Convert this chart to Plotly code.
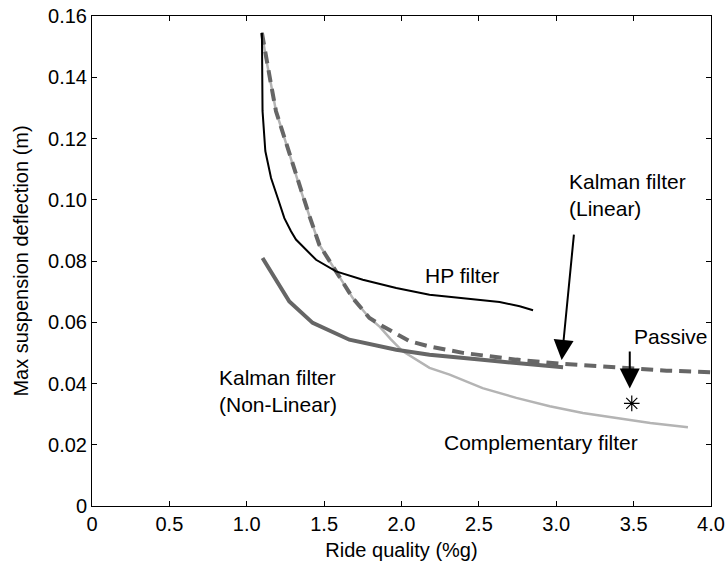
import plotly.graph_objects as go

# ---- data ----
hp_x = [1.098, 1.102, 1.120, 1.157, 1.204, 1.243, 1.286, 1.318, 1.448, 1.577,
        1.750, 1.966, 2.181, 2.397, 2.634, 2.764, 2.850]
hp_y = [0.1545, 0.1290, 0.1159, 0.1071, 0.1000, 0.0940, 0.0897, 0.0870, 0.0804, 0.0766,
        0.0739, 0.0712, 0.0690, 0.0679, 0.0666, 0.0652, 0.0639]

comp_x = [1.098, 1.124, 1.157, 1.189, 1.243, 1.296, 1.351, 1.405, 1.469, 1.577,
          1.685, 1.793, 1.860, 1.930, 2.006, 2.181, 2.311, 2.524, 2.742, 2.958,
          3.172, 3.390, 3.608, 3.851]
comp_y = [0.1545, 0.1463, 0.1376, 0.1289, 0.1202, 0.1114, 0.1028, 0.0947, 0.0853, 0.0766,
          0.0679, 0.0614, 0.0585, 0.0545, 0.0506, 0.0451, 0.0429, 0.0385, 0.0353, 0.0326,
          0.0304, 0.0287, 0.0271, 0.0257]

klin_x = [1.098, 1.124, 1.157, 1.189, 1.243, 1.296, 1.351, 1.405, 1.469, 1.577,
          1.685, 1.793, 1.879, 2.052, 2.181, 2.397, 2.526, 2.742, 3.044, 3.390,
          3.713, 4.000]
klin_y = [0.1545, 0.1463, 0.1376, 0.1289, 0.1202, 0.1114, 0.1028, 0.0947, 0.0853, 0.0766,
          0.0679, 0.0614, 0.0587, 0.0538, 0.0521, 0.0500, 0.0492, 0.0478, 0.0464, 0.0453,
          0.0442, 0.0437]

knl_x = [1.102, 1.275, 1.426, 1.663, 1.966, 2.181, 2.505, 2.742, 3.044]
knl_y = [0.0810, 0.0668, 0.0598, 0.0543, 0.0510, 0.0494, 0.0478, 0.0467, 0.0453]

passive_x = [3.488]
passive_y = [0.0335]

x_ticks = [0, 0.5, 1.0, 1.5, 2.0, 2.5, 3.0, 3.5, 4.0]
x_labels = ["0", "0.5", "1.0", "1.5", "2.0", "2.5", "3.0", "3.5", "4.0"]
y_ticks = [0, 0.02, 0.04, 0.06, 0.08, 0.10, 0.12, 0.14, 0.16]
y_labels = ["0", "0.02", "0.04", "0.06", "0.08", "0.10", "0.12", "0.14", "0.16"]

FONT = "Liberation Sans, Arial, Helvetica, sans-serif"
FS = 20
FS_ANN = 21

fig = go.Figure()
fig.add_trace(go.Scatter(x=comp_x, y=comp_y, mode="lines",
                         line=dict(color="#b4b4b4", width=2.5), name="Complementary filter"))
fig.add_trace(go.Scatter(x=knl_x, y=knl_y, mode="lines",
                         line=dict(color="#666666", width=4), name="Kalman filter (Non-Linear)"))
fig.add_trace(go.Scatter(x=klin_x, y=klin_y, mode="lines",
                         line=dict(color="#666666", width=4, dash="12px,7px"),
                         name="Kalman filter (Linear)"))
fig.add_trace(go.Scatter(x=hp_x, y=hp_y, mode="lines",
                         line=dict(color="#000000", width=2), name="HP filter"))
fig.add_trace(go.Scatter(x=passive_x, y=passive_y, mode="markers",
                         marker=dict(symbol="asterisk-open", size=13, color="black",
                                     line=dict(color="black", width=1.2)),
                         name="Passive"))

texts = [
    ("HP filter", 2.137, 0.0754),
    ("Kalman filter<br>(Linear)", 3.068, 0.1016),
    ("Kalman filter<br>(Non-Linear)", 0.806, 0.0374),
    ("Passive", 3.488, 0.0555),
    ("Complementary filter", 2.262, 0.0206),
]
for t, x, y in texts:
    fig.add_annotation(x=x, y=y, text=t, showarrow=False, xanchor="left", yanchor="middle",
                       align="left", font=dict(family=FONT, size=FS_ANN, color="black"))

arrows = [
    (3.035, 0.0477, 3.115, 0.0891),
    (3.475, 0.0384, 3.475, 0.0509),
]
for x, y, ax, ay in arrows:
    fig.add_annotation(x=x, y=y, ax=ax, ay=ay, axref="x", ayref="y", text="",
                       showarrow=True, arrowhead=2, arrowsize=2, arrowwidth=2,
                       arrowcolor="black", standoff=0)

axis_common = dict(showgrid=False, zeroline=False, showline=True, linecolor="black",
                   linewidth=1, mirror="allticks", ticks="inside", ticklen=5,
                   tickcolor="black", tickwidth=1, automargin=False,
                   tickfont=dict(family=FONT, size=FS, color="black"))

fig.update_xaxes(range=[0, 4], tickvals=x_ticks, ticktext=x_labels,
                 title=dict(text="Ride quality (%g)", font=dict(family=FONT, size=FS, color="black"),
                            standoff=8),
                 **axis_common)
fig.update_yaxes(range=[0, 0.16], tickvals=y_ticks, ticktext=y_labels,
                 title=dict(text="Max suspension deflection (m)",
                            font=dict(family=FONT, size=FS, color="black"), standoff=14),
                 **axis_common)

fig.update_layout(width=726, height=563, showlegend=False,
                  margin=dict(l=92, r=15, t=16, b=57, pad=0),
                  plot_bgcolor="white", paper_bgcolor="white",
                  font=dict(family=FONT, size=FS, color="black"))

fig.write_html("out.html")
